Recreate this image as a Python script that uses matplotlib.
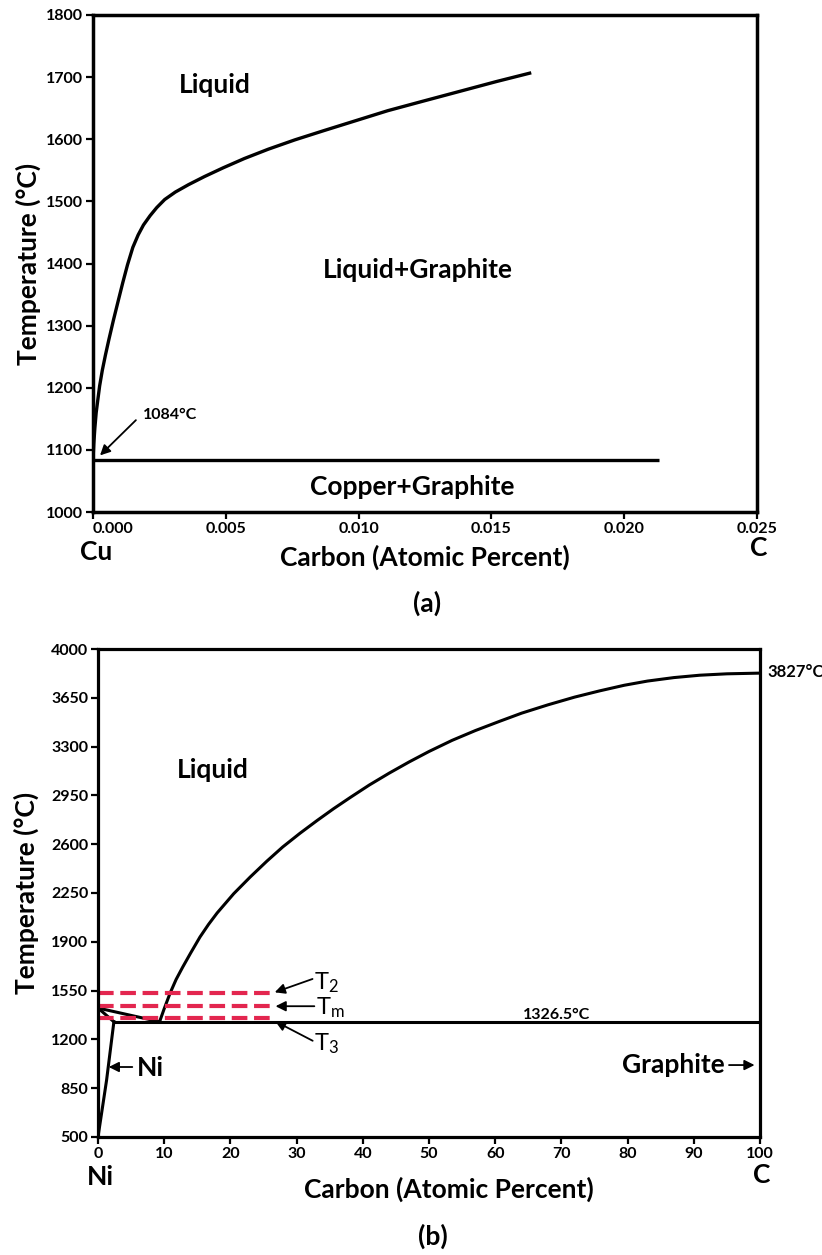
import numpy as np
import matplotlib.pyplot as plt
from matplotlib.ticker import FormatStrFormatter

plt.rcParams['font.family'] = ['Lato', 'DejaVu Sans']
plt.rcParams['mathtext.fontset'] = 'custom'
plt.rcParams['mathtext.rm'] = 'Lato'
plt.rcParams['mathtext.it'] = 'Lato:italic'
plt.rcParams['mathtext.bf'] = 'Lato:bold'

# (a) Cu-C diagram, carbon in atomic percent
cu_liq_x = [0.0, 0.00003, 0.00007, 0.00012, 0.00018, 0.00025, 0.00035, 0.00047,
            0.0006, 0.00077, 0.00095, 0.00112, 0.0013, 0.0015, 0.0017, 0.0019,
            0.00215, 0.0024, 0.0027, 0.0031, 0.0036, 0.0042, 0.0049, 0.0057,
            0.0066, 0.0076, 0.0087, 0.0099, 0.0111, 0.0124, 0.0138, 0.0152, 0.0165]
cu_liq_t = [1084, 1110, 1135, 1160, 1180, 1203, 1228, 1253,
            1278, 1309, 1340, 1369, 1398, 1426, 1446, 1462,
            1477, 1490, 1503, 1515, 1527, 1540, 1554, 1569,
            1584, 1599, 1614, 1630, 1646, 1661, 1677, 1693, 1707]
cu_eut_x = [0.0, 0.0213]
cu_eut_t = [1084, 1084]

# (b) Ni-C diagram
ni_liq_x = [9.3, 10.0, 10.9, 11.8, 12.8, 14.0, 15.4, 16.7, 18.0, 20.5, 23.0, 25.5,
            27.9, 30.5, 33.1, 35.6, 38.1, 41.0, 44.0, 47.0, 50.0, 53.5, 57.0, 60.7,
            64.0, 68.0, 72.0, 75.8, 79.5, 83.0, 87.0, 90.9, 95.0, 100.0]
ni_liq_t = [1326.5, 1420, 1533, 1630, 1719, 1820, 1934, 2025, 2107, 2245, 2365, 2478,
            2580, 2678, 2770, 2855, 2935, 3025, 3110, 3190, 3265, 3345, 3415, 3482,
            3540, 3600, 3655, 3700, 3740, 3770, 3795, 3812, 3822, 3827]
ni_liq2_x = [0.0, 9.3]
ni_liq2_t = [1425, 1326.5]
ni_sol_x = [0.0, 2.4]
ni_sol_t = [1425, 1326.5]
ni_solvus_x = [0.0, 1.3, 2.4]
ni_solvus_t = [500, 909, 1326.5]
ni_eut_x = [2.4, 100.0]
ni_eut_t = [1326.5, 1326.5]
T_names = [r'T$_\mathrm{2}$', r'T$_\mathrm{m}$', r'T$_\mathrm{3}$']
T_vals = [1531, 1438, 1354]
T_end = 26.0

W, H = 822, 1255
fig = plt.figure(figsize=(W / 100, H / 100), dpi=100)

def style_axes(ax, lw):
    for s in ax.spines.values():
        s.set_linewidth(lw)
    ax.tick_params(direction='out', length=5, width=1.6, labelsize=11.5, pad=2)
    for lab in ax.get_xticklabels() + ax.get_yticklabels():
        lab.set_fontweight('bold')

# ---------------- (a) ----------------
axa = fig.add_axes([93 / W, 1 - 512 / H, (757 - 93) / W, (512 - 15) / H])
axa.plot(cu_liq_x, cu_liq_t, color='k', lw=2.4, solid_capstyle='butt')
axa.plot(cu_eut_x, cu_eut_t, color='k', lw=2.4, solid_capstyle='butt')
axa.set_xlim(0, 0.025)
axa.set_ylim(1000, 1800)
axa.set_xticks(np.arange(0, 0.0251, 0.005))
axa.set_yticks(np.arange(1000, 1801, 100))
axa.xaxis.set_major_formatter(FormatStrFormatter('%.3f'))
style_axes(axa, 2.5)
axa.get_xticklabels()[0].set_horizontalalignment('left')

axa.text(0.00459, 1687, 'Liquid', fontsize=19, fontweight='bold', ha='center', va='center')
axa.text(0.01224, 1389, 'Liquid+Graphite', fontsize=19, fontweight='bold', ha='center', va='center')
axa.text(0.01201, 1040, 'Copper+Graphite', fontsize=19, fontweight='bold', ha='center', va='center')
axa.text(0.00188, 1156, '1084°C', fontsize=11.5, fontweight='bold', ha='left', va='center')
arr = dict(arrowstyle='-|>', color='k', lw=1.3, mutation_scale=15)
axa.annotate('', xy=(0.00019, 1088), xytext=(0.00169, 1151), arrowprops=arr)

axa.text(0.5, -0.0905, 'Carbon (Atomic Percent)', transform=axa.transAxes,
         fontsize=19, fontweight='bold', ha='center', va='center')
axa.text(-0.098, 0.5, 'Temperature (°C)', transform=axa.transAxes, rotation=90,
         fontsize=19, fontweight='bold', ha='center', va='center')
axa.text(0.0045, -0.080, 'Cu', transform=axa.transAxes, fontsize=19,
         fontweight='bold', ha='center', va='center')
axa.text(1.003, -0.072, 'C', transform=axa.transAxes, fontsize=19,
         fontweight='bold', ha='center', va='center')
axa.text(0.503, -0.183, '(a)', transform=axa.transAxes, fontsize=19,
         fontweight='bold', ha='center', va='center')

# ---------------- (b) ----------------
axb = fig.add_axes([98 / W, 1 - 1137 / H, (760 - 98) / W, (1137 - 649) / H])
for xs, ts in [(ni_liq_x, ni_liq_t), (ni_liq2_x, ni_liq2_t), (ni_sol_x, ni_sol_t),
               (ni_solvus_x, ni_solvus_t), (ni_eut_x, ni_eut_t)]:
    axb.plot(xs, ts, color='k', lw=2.2, solid_joinstyle='miter')
for tv in T_vals:
    axb.plot([0, T_end], [tv, tv], color='#E3264F', lw=3, dashes=(3.75, 1.6))
axb.set_xlim(0, 100)
axb.set_ylim(500, 4000)
axb.set_xticks(np.arange(0, 101, 10))
axb.set_yticks(np.arange(500, 4001, 350))
style_axes(axb, 2.3)

axb.text(17.4, 3132, 'Liquid', fontsize=19, fontweight='bold', ha='center', va='center')
axb.text(69.2, 1375, '1326.5°C', fontsize=11.5, fontweight='bold', ha='center', va='center')
axb.text(101.1, 3835, '3827°C', fontsize=12, fontweight='bold', ha='left', va='center')

# T2 / Tm / T3 labels with arrows
axb.text(32.6, 1610, T_names[0], fontsize=17, ha='left', va='center')
axb.text(32.9, 1430, T_names[1], fontsize=17, ha='left', va='center')
axb.text(32.6, 1170, T_names[2], fontsize=17, ha='left', va='center')
axb.annotate('', xy=(26.3, T_vals[0]), xytext=(32.8, 1640), arrowprops=arr)
axb.annotate('', xy=(26.4, T_vals[1]), xytext=(33.1, T_vals[1]), arrowprops=arr)
axb.annotate('', xy=(26.4, 1339), xytext=(32.8, 1181), arrowprops=arr)

axb.text(5.9, 995, 'Ni', fontsize=19, fontweight='bold', ha='left', va='center')
axb.annotate('', xy=(1.2, 1002), xytext=(5.6, 1002), arrowprops=arr)
axb.text(94.6, 1016, 'Graphite', fontsize=19, fontweight='bold', ha='right', va='center')
axb.annotate('', xy=(99.6, 1016), xytext=(94.9, 1016), arrowprops=arr)

axb.text(0.53, -0.107, 'Carbon (Atomic Percent)', transform=axb.transAxes,
         fontsize=19, fontweight='bold', ha='center', va='center')
axb.text(-0.109, 0.5, 'Temperature (°C)', transform=axb.transAxes, rotation=90,
         fontsize=19, fontweight='bold', ha='center', va='center')
axb.text(0.003, -0.082, 'Ni', transform=axb.transAxes, fontsize=19,
         fontweight='bold', ha='center', va='center')
axb.text(1.003, -0.078, 'C', transform=axb.transAxes, fontsize=19,
         fontweight='bold', ha='center', va='center')
axb.text(0.506, -0.203, '(b)', transform=axb.transAxes, fontsize=19,
         fontweight='bold', ha='center', va='center')

fig.savefig('out.png', dpi=100)
